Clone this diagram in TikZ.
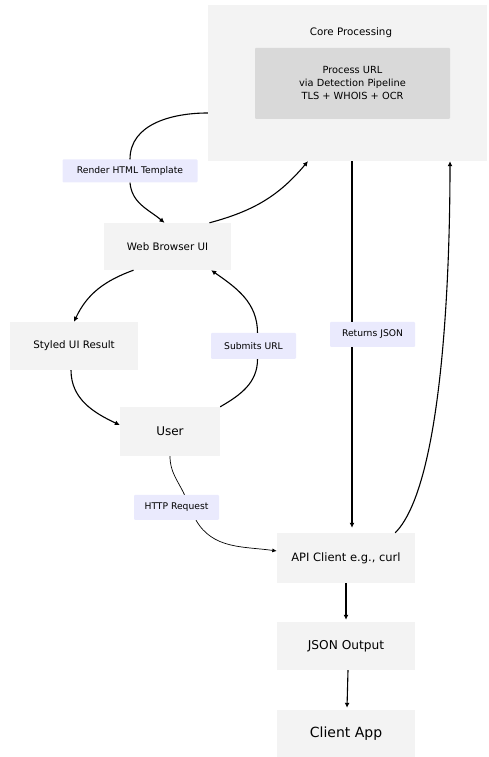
\documentclass[tikz,border=0pt]{standalone}
\usepackage{fontspec}
\setmainfont{DejaVu Sans}
\usepackage{tikz}
\usetikzlibrary{arrows.meta}

\definecolor{boxgray}{HTML}{F3F3F3}
\definecolor{procgray}{HTML}{D9D9D9}
\definecolor{lblblue}{HTML}{EAEAFD}

\tikzset{
  box/.style={fill=boxgray, minimum width=138pt, minimum height=48pt, inner sep=0pt,
    font=\fontsize{10.3}{12}\selectfont},
  lbl/.style={fill=lblblue, rounded corners=1pt, minimum width=85pt, minimum height=25pt,
    inner sep=0pt, font=\fontsize{9.2}{11}\selectfont},
  wire/.style={line width=1.1pt},
  link/.style={wire, -{Latex[length=5pt,width=5pt]}},
}

\begin{document}
\begin{tikzpicture}[x=1pt,y=1pt]
\useasboundingbox (0,0) rectangle (488,757);

\node[fill=boxgray, minimum width=279pt, minimum height=156pt] (core) at (347.5,674) {};
\node[font=\fontsize{10.3}{12}\selectfont] (coretitle) at (351,724) {Core Processing};
\node[fill=procgray, rounded corners=1pt, minimum width=195pt, minimum height=71pt,
  align=center, font=\fontsize{9.8}{13}\selectfont] (proc) at (352.5,673.5)
  {Process URL\\via Detection Pipeline\\TLS + WHOIS + OCR};

\node[lbl, minimum width=135pt, minimum height=23pt] (render) at (130,586) {Render HTML Template};
\node[box, minimum width=127pt, minimum height=47pt] (browser) at (167.5,510.5) {Web Browser UI};
\node[box, minimum width=128pt] (styled) at (74,411) {Styled UI Result};
\node[lbl, minimum height=26pt] (submits) at (253.5,411) {Submits URL};
\node[box, minimum width=100pt, minimum height=49pt, font=\fontsize{12}{14}\selectfont] (user) at (170,325.5) {User};
\node[lbl] (returns) at (372.5,422.5) {Returns JSON};
\node[lbl] (http) at (176.5,249.5) {HTTP Request};
\node[box, minimum height=50pt, font=\fontsize{11.5}{13}\selectfont] (api) at (346,199) {API Client e.g., curl};
\node[box, font=\fontsize{12.2}{14}\selectfont] (json) at (346,111) {JSON Output};
\node[box, minimum height=47pt, font=\fontsize{14}{16}\selectfont] (client) at (346,23.5) {Client App};

\draw[wire] ([yshift=-30pt]core.west) to[out=180,in=90] (render.north);
\draw[link] (render.south) to[out=-85,in=140] ([xshift=-3pt]browser.north);
\draw[link] ([xshift=42pt]browser.north) to[out=15,in=230] ([xshift=-39.5pt]core.south);
\draw[link] ([xshift=-34pt]browser.south) to[out=200,in=65] (styled.north);
\draw[link] ([xshift=-3pt]styled.south) to[out=-90,in=155] ([yshift=6.5pt]user.west);
\draw[wire] (user.north east) to[out=30,in=-90] ([xshift=4pt]submits.south);
\draw[link] ([xshift=4pt]submits.north) to[out=90,in=-35] ([xshift=-20pt]browser.south east);
\draw[line width=0.7pt] (user.south) to[out=-90,in=115] ([xshift=8pt]http.north);
\draw[line width=0.7pt, -{Latex[length=4.5pt,width=4pt]}] ([xshift=19.5pt]http.south) to[out=-60,in=172] ([yshift=7pt]api.west);
\draw[wire] ([xshift=-20.5pt]returns.north |- core.south) -- ([xshift=-20.5pt]returns.north);
\draw[link] ([xshift=-20.5pt]returns.south) -- ([xshift=-20.5pt, yshift=5pt]returns.south |- api.north);
\draw[link] ([xshift=-20pt]api.north east) to[out=45,in=-90,looseness=0.5] ([xshift=102.5pt]core.south);
\draw[link] (api.south) -- ([yshift=2pt]json.north);
\draw[link] ([xshift=2pt]json.south) -- ([xshift=1pt, yshift=2pt]client.north);

\end{tikzpicture}
\end{document}
